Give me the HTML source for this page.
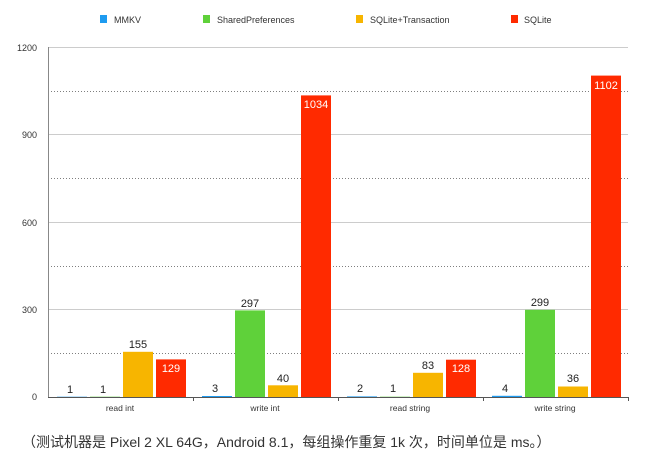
<!DOCTYPE html>
<html><head><meta charset="utf-8"><style>
body{margin:0;background:#fff;width:656px;height:465px;overflow:hidden}
</style></head><body>
<svg width="656" height="465" xmlns="http://www.w3.org/2000/svg" font-family="Liberation Sans, sans-serif">
<g font-size="9" fill="#333">
<rect x="100" y="15" width="7" height="8" fill="#1e9bf0"/><text x="114" y="23">MMKV</text>
<rect x="203" y="15" width="7" height="8" fill="#5fd13a"/><text x="217" y="23">SharedPreferences</text>
<rect x="356" y="15" width="7" height="8" fill="#f7b500"/><text x="370" y="23">SQLite+Transaction</text>
<rect x="511" y="15" width="7" height="8" fill="#ff2a00"/><text x="524" y="23">SQLite</text>
</g>
<g stroke="#ccc" stroke-width="1">
<line x1="48" y1="47.5" x2="628" y2="47.5"/>
<line x1="48" y1="134.5" x2="628" y2="134.5"/>
<line x1="48" y1="222.5" x2="628" y2="222.5"/>
<line x1="48" y1="309.5" x2="628" y2="309.5"/>
</g>
<g stroke="#555" stroke-width="0.8" stroke-dasharray="1,2">
<line x1="48" y1="91.5" x2="628" y2="91.5"/>
<line x1="48" y1="178.5" x2="628" y2="178.5"/>
<line x1="48" y1="266.5" x2="628" y2="266.5"/>
<line x1="48" y1="353.5" x2="628" y2="353.5"/>
</g>
<g font-size="9" fill="#333" text-anchor="end">
<text x="37" y="51">1200</text><text x="37" y="138">900</text><text x="37" y="226">600</text><text x="37" y="313">300</text><text x="37" y="400">0</text>
</g>
<line x1="48.5" y1="47" x2="48.5" y2="397" stroke="#888"/>
<line x1="48" y1="397.5" x2="628" y2="397.5" stroke="#555"/>
<g stroke="#555"><line x1="193.5" y1="397" x2="193.5" y2="401"/><line x1="338.5" y1="397" x2="338.5" y2="401"/><line x1="483.5" y1="397" x2="483.5" y2="401"/><line x1="628.5" y1="397" x2="628.5" y2="401"/></g>
<g>
<!-- group1 -->
<rect x="57" y="396.7" width="30" height="0.3" fill="#1e9bf0"/>
<rect x="90" y="396.7" width="30" height="0.3" fill="#5fd13a"/>
<rect x="123" y="351.8" width="30" height="45.2" fill="#f7b500"/>
<rect x="156" y="359.4" width="30" height="37.6" fill="#ff2a00"/>
<!-- group2 -->
<rect x="202" y="396" width="30" height="1" fill="#1e9bf0"/>
<rect x="235" y="310.4" width="30" height="86.6" fill="#5fd13a"/>
<rect x="268" y="385.3" width="30" height="11.7" fill="#f7b500"/>
<rect x="301" y="95.4" width="30" height="301.6" fill="#ff2a00"/>
<!-- group3 -->
<rect x="347" y="396.4" width="30" height="0.6" fill="#1e9bf0"/>
<rect x="380" y="396.7" width="30" height="0.3" fill="#5fd13a"/>
<rect x="413" y="372.8" width="30" height="24.2" fill="#f7b500"/>
<rect x="446" y="359.7" width="30" height="37.3" fill="#ff2a00"/>
<!-- group4 -->
<rect x="492" y="395.8" width="30" height="1.2" fill="#1e9bf0"/>
<rect x="525" y="309.8" width="30" height="87.2" fill="#5fd13a"/>
<rect x="558" y="386.5" width="30" height="10.5" fill="#f7b500"/>
<rect x="591" y="75.6" width="30" height="321.4" fill="#ff2a00"/>
</g>
<g font-size="11" fill="#222" text-anchor="middle">
<text x="70" y="393">1</text><text x="103" y="393">1</text><text x="138" y="348">155</text>
<text x="215" y="392">3</text><text x="250" y="307">297</text><text x="283" y="382">40</text>
<text x="360" y="392">2</text><text x="393" y="392">1</text><text x="428" y="369">83</text>
<text x="505" y="392">4</text><text x="540" y="306">299</text><text x="573" y="382">36</text>
</g>
<g font-size="11" fill="#fff" text-anchor="middle">
<text x="171" y="372">129</text><text x="316" y="108">1034</text><text x="461" y="372">128</text><text x="606" y="89">1102</text>
</g>
<g font-size="8.5" fill="#333" text-anchor="middle">
<text x="120" y="411">read int</text><text x="265" y="411">write int</text><text x="410" y="411">read string</text><text x="555" y="411">write string</text>
</g>
<text x="22" y="447" font-size="14" fill="#333" font-family="Liberation Sans, Noto Sans CJK SC, sans-serif">（测试机器是 Pixel 2 XL 64G，Android 8.1，每组操作重复 1k 次，时间单位是 ms。）</text>
</svg>
</body></html>
